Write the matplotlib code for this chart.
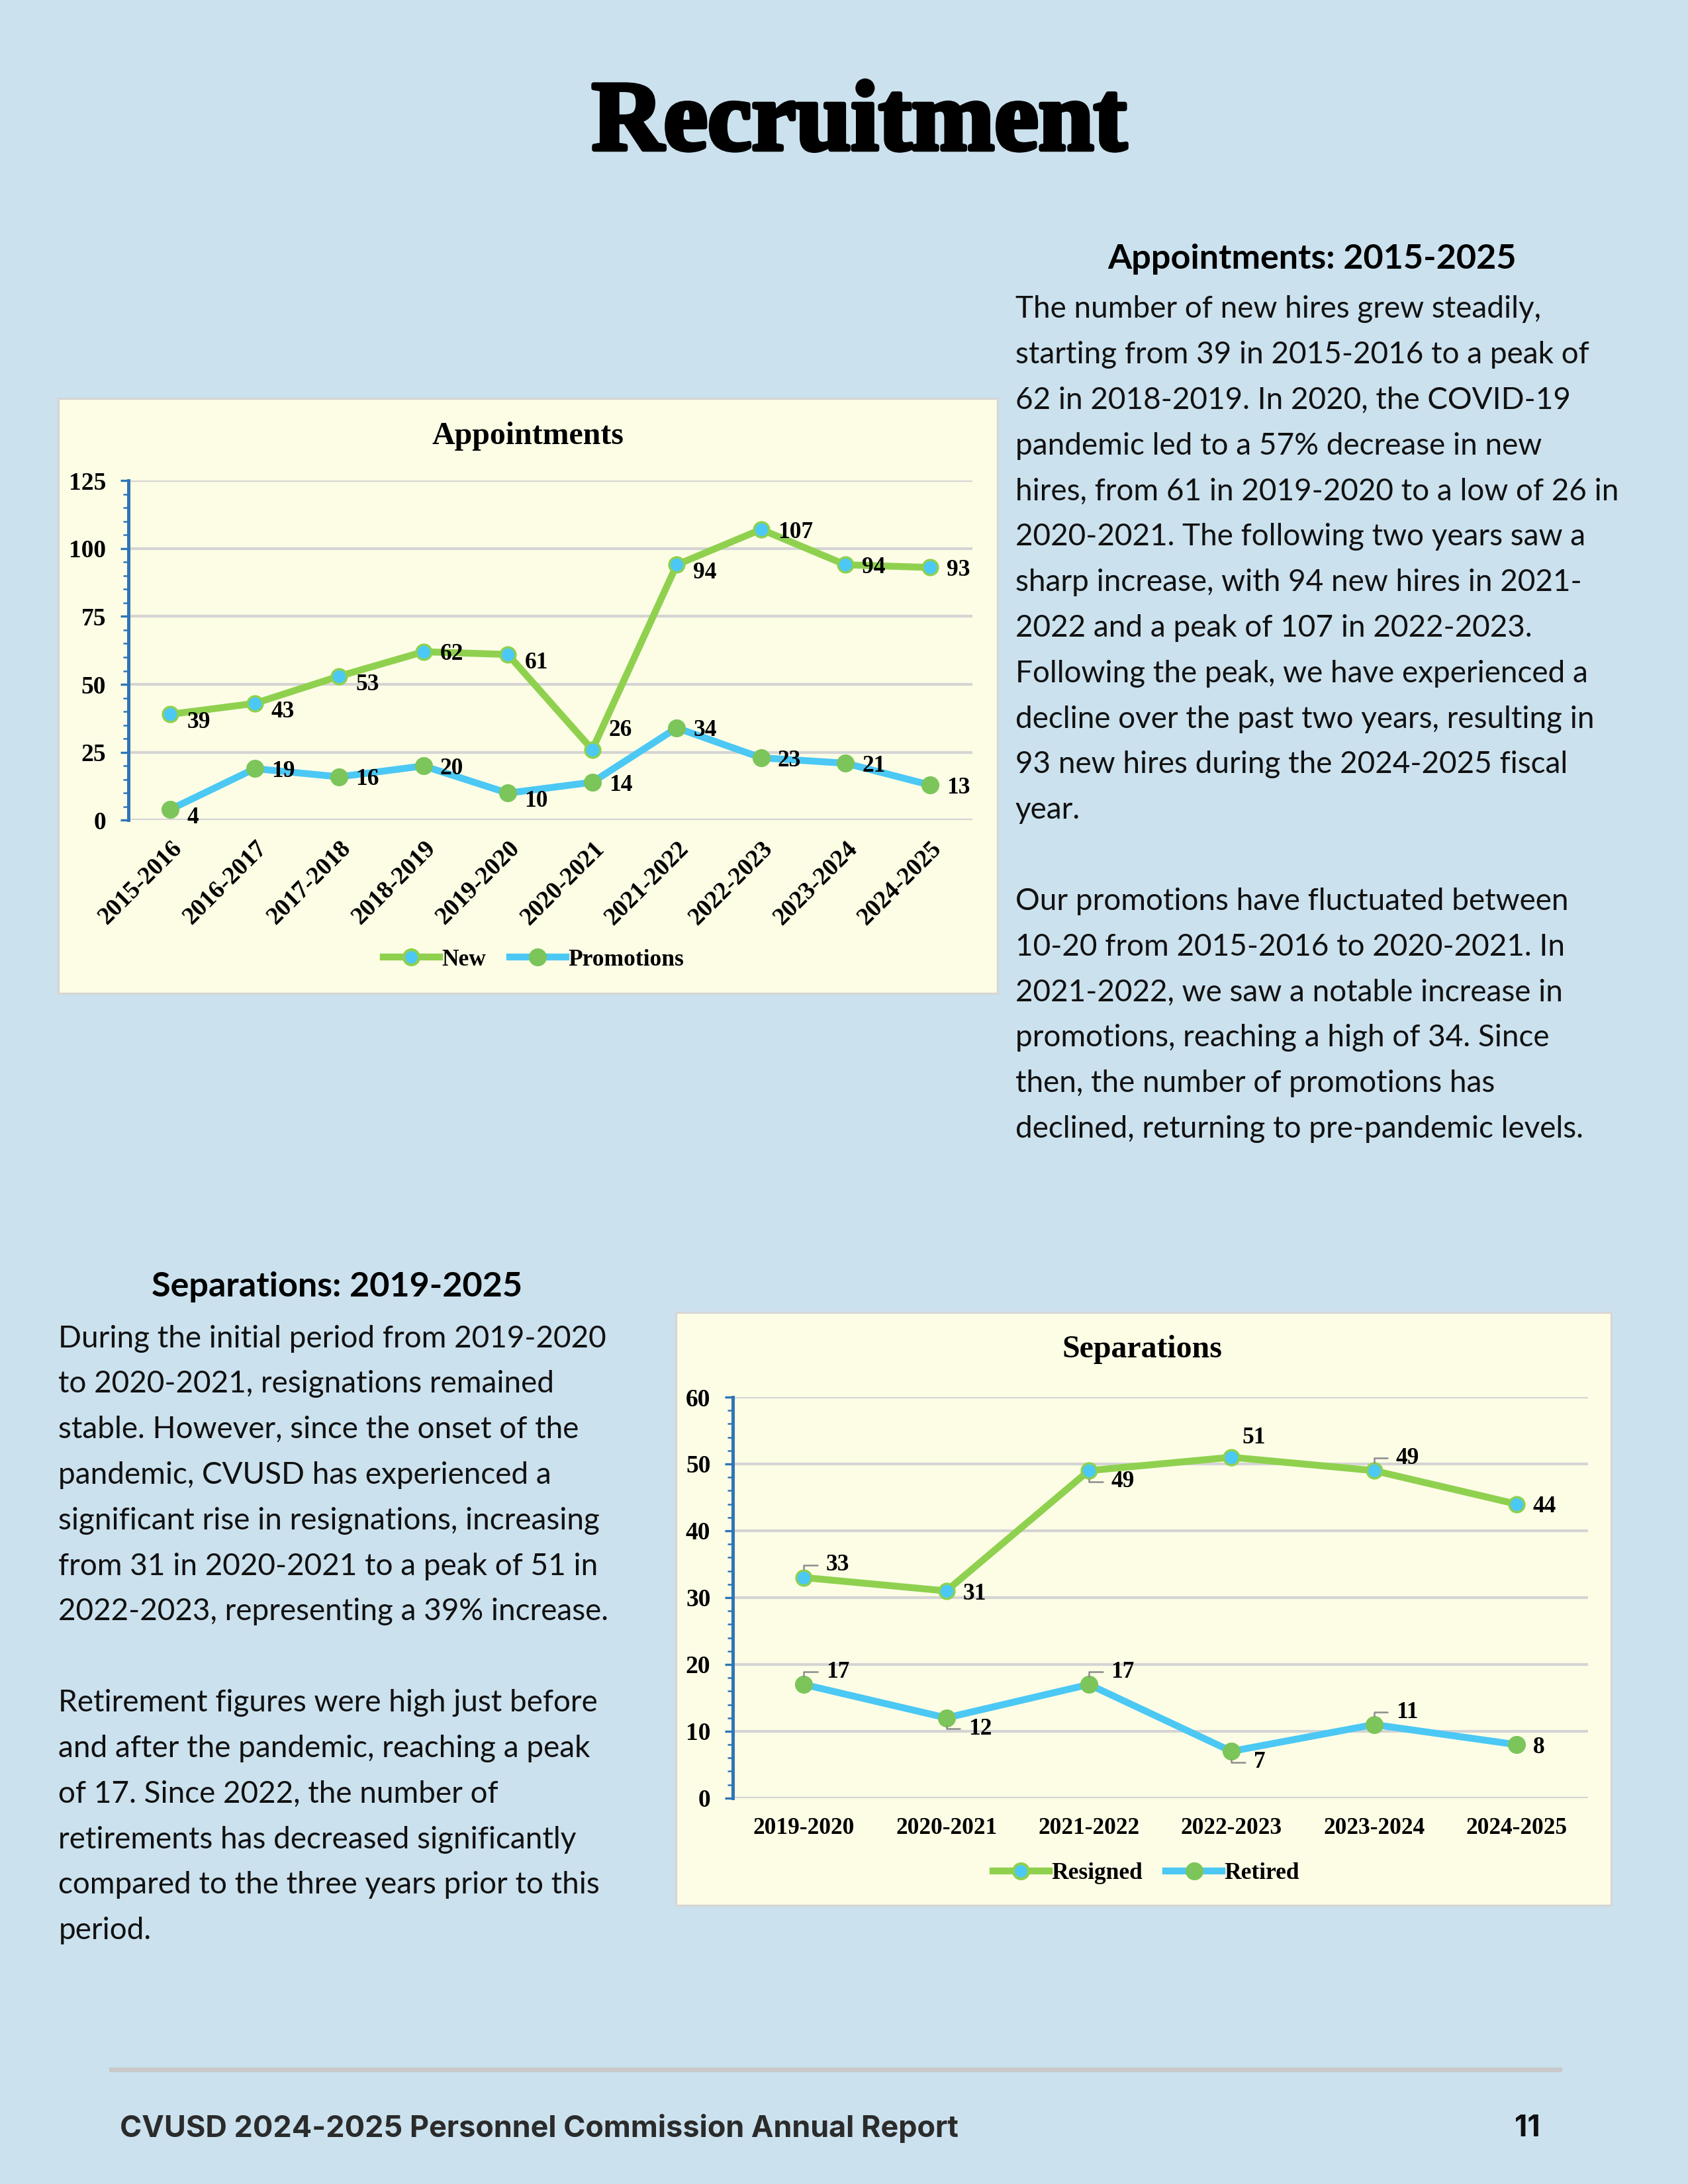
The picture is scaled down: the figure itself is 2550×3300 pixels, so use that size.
import numpy as np
import matplotlib.pyplot as plt
import matplotlib.patheffects as pe
from matplotlib.patches import Rectangle
from matplotlib.lines import Line2D
from matplotlib.ticker import MultipleLocator

# ---- data ----
app_years = ["2015-2016", "2016-2017", "2017-2018", "2018-2019", "2019-2020",
             "2020-2021", "2021-2022", "2022-2023", "2023-2024", "2024-2025"]
new_hires = [39, 43, 53, 62, 61, 26, 94, 107, 94, 93]
promotions = [4, 19, 16, 20, 10, 14, 34, 23, 21, 13]

sep_years = ["2019-2020", "2020-2021", "2021-2022", "2022-2023", "2023-2024", "2024-2025"]
resigned = [33, 31, 49, 51, 49, 44]
retired = [17, 12, 17, 7, 11, 8]

# label placement codes (style only)
new_pos = ["r-", "r-", "r-", "r", "r-", "ru", "r-", "r", "r", "r"]
promo_pos = ["r-", "r", "r", "r", "r-", "r", "r", "r", "r", "r"]
resigned_pos = ["UR", "r", "LR", "u", "UR", "r"]
retired_pos = ["UR", "LR", "UR", "LR", "UR", "r"]

para_app = [
    "The number of new hires grew steadily,",
    "starting from 39 in 2015-2016 to a peak of",
    "62 in 2018-2019. In 2020, the COVID-19",
    "pandemic led to a 57% decrease in new",
    "hires, from 61 in 2019-2020 to a low of 26 in",
    "2020-2021. The following two years saw a",
    "sharp increase, with 94 new hires in 2021-",
    "2022 and a peak of 107 in 2022-2023.",
    "Following the peak, we have experienced a",
    "decline over the past two years, resulting in",
    "93 new hires during the 2024-2025 fiscal",
    "year.",
    "",
    "Our promotions have fluctuated between",
    "10-20 from 2015-2016 to 2020-2021. In",
    "2021-2022, we saw a notable increase in",
    "promotions, reaching a high of 34. Since",
    "then, the number of promotions has",
    "declined, returning to pre-pandemic levels.",
]
para_sep = [
    "During the initial period from 2019-2020",
    "to 2020-2021, resignations remained",
    "stable. However, since the onset of the",
    "pandemic, CVUSD has experienced a",
    "significant rise in resignations, increasing",
    "from 31 in 2020-2021 to a peak of 51 in",
    "2022-2023, representing a 39% increase.",
    "",
    "Retirement figures were high just before",
    "and after the pandemic, reaching a peak",
    "of 17. Since 2022, the number of",
    "retirements has decreased significantly",
    "compared to the three years prior to this",
    "period.",
]

# ---- style ----
page_bg = "#cbe1ee"
panel_bg = "#fdfde6"
green = "#8fd14f"
cyan = "#4cc8f4"
dot_green = "#7cc55a"
axis_blue = "#2e75b6"
serif = "Liberation Serif"
body_font = "Lato"
LW = 2.5
MS = 5.5

fig = plt.figure(figsize=(8.5, 11), dpi=300)
fig.patch.set_facecolor(page_bg)

fig.text(0.509, 0.9426, "Recruitment", ha="center", va="center", fontsize=36,
         fontweight="bold", family=serif, color="black",
         path_effects=[pe.withStroke(linewidth=1.6, foreground="black")])


def panel(x0, y0, x1, y1):
    fig.patches.append(Rectangle((x0, y0), x1 - x0, y1 - y0, transform=fig.transFigure,
                                 facecolor=panel_bg, edgecolor="#d6d6d6", lw=0.8, zorder=-5))


def style_axes(ax, ymax, major, minor):
    ax.set_facecolor("none")
    ax.set_ylim(0, ymax)
    ax.yaxis.set_major_locator(MultipleLocator(major))
    ax.yaxis.set_minor_locator(MultipleLocator(minor))
    for s in ["top", "right", "bottom"]:
        ax.spines[s].set_visible(False)
    ax.spines["left"].set_color(axis_blue)
    ax.spines["left"].set_linewidth(1.2)
    ax.grid(axis="y", color="#d4d4d4", lw=1.0)
    ax.set_axisbelow(True)
    ax.tick_params(axis="y", which="major", length=3, width=0.8, color=axis_blue, pad=5)
    ax.tick_params(axis="y", which="minor", length=2, width=0.6, color=axis_blue)
    ax.tick_params(axis="x", length=0)
    for lab in ax.get_yticklabels():
        lab.set_fontfamily(serif)
        lab.set_fontweight("bold")
        lab.set_fontsize(9)


def put_label(ax, x, y, code):
    txt = str(y)
    kw = dict(textcoords="offset points", fontsize=8.5, fontweight="bold", family=serif,
              va="center", ha="left", zorder=5)
    if code == "r":
        ax.annotate(txt, (x, y), xytext=(6, -1), **kw)
    elif code == "r-":
        ax.annotate(txt, (x, y), xytext=(6, -3), **kw)
    elif code == "ru":
        ax.annotate(txt, (x, y), xytext=(6, 7), **kw)
    elif code == "u":
        ax.annotate(txt, (x, y), xytext=(4, 7), **kw)
    else:
        dy = 4.5 if code == "UR" else -4
        ax.annotate(txt, (x, y), xytext=(8, dy),
                    arrowprops=dict(arrowstyle="-", color="#8c8c8c", lw=0.6,
                                    connectionstyle="angle,angleA=0,angleB=90",
                                    shrinkA=1, shrinkB=3), **kw)


def line_handle(line_color, face, edge):
    return Line2D([], [], color=line_color, lw=LW, marker="o", ms=MS, mfc=face, mec=edge)


# ---- Appointments chart ----
panel(0.0347, 0.5453, 0.5908, 0.8176)
ax1 = fig.add_axes([0.0759, 0.6244, 0.50, 0.1556])
x1 = np.arange(len(app_years))
ax1.plot(x1, new_hires, color=green, lw=LW, marker="o", ms=MS,
         mfc=cyan, mec=green, mew=0.8, zorder=3)
ax1.plot(x1, promotions, color=cyan, lw=LW, marker="o", ms=MS,
         mfc=dot_green, mec=dot_green, zorder=3)
ax1.set_xlim(-0.5, len(app_years) - 0.5)
ax1.set_xticks(x1)
ax1.set_xticklabels(app_years, rotation=45, ha="right", va="top", rotation_mode="anchor",
                    fontsize=9, fontweight="bold", family=serif)
ax1.tick_params(axis="x", pad=6)
style_axes(ax1, 125, 25, 5)
for i in range(len(app_years)):
    put_label(ax1, x1[i], new_hires[i], new_pos[i])
    put_label(ax1, x1[i], promotions[i], promo_pos[i])
fig.text(0.3127, 0.8004, "Appointments", ha="center", va="center", fontsize=11.5,
         fontweight="bold", family=serif)
fig.legend([line_handle(green, cyan, green), line_handle(cyan, dot_green, dot_green)],
           ["New", "Promotions"], loc="center", bbox_to_anchor=(0.316, 0.5606),
           ncol=2, frameon=False, handlelength=2.4, columnspacing=1.0, handletextpad=0.1,
           prop=dict(family=serif, weight="bold", size=8.5))

# ---- Separations chart ----
panel(0.4002, 0.1276, 0.9546, 0.3992)
ax2 = fig.add_axes([0.4340, 0.1767, 0.5066, 0.1836])
x2 = np.arange(len(sep_years))
ax2.plot(x2, resigned, color=green, lw=LW, marker="o", ms=MS,
         mfc=cyan, mec=green, mew=0.8, zorder=3)
ax2.plot(x2, retired, color=cyan, lw=LW, marker="o", ms=MS,
         mfc=dot_green, mec=dot_green, zorder=3)
ax2.set_xlim(-0.5, len(sep_years) - 0.5)
ax2.set_xticks(x2)
ax2.set_xticklabels(sep_years, fontsize=8.5, fontweight="bold", family=serif)
ax2.tick_params(axis="x", pad=7)
style_axes(ax2, 60, 10, 2)
for i in range(len(sep_years)):
    put_label(ax2, x2[i], resigned[i], resigned_pos[i])
    put_label(ax2, x2[i], retired[i], retired_pos[i])
fig.text(0.6766, 0.382, "Separations", ha="center", va="center", fontsize=11.5,
         fontweight="bold", family=serif)
fig.legend([line_handle(green, cyan, green), line_handle(cyan, dot_green, dot_green)],
           ["Resigned", "Retired"], loc="center", bbox_to_anchor=(0.679, 0.1422),
           ncol=2, frameon=False, handlelength=2.4, columnspacing=1.0, handletextpad=0.1,
           prop=dict(family=serif, weight="bold", size=8.5))

# ---- text blocks ----
line_step = 32.7 / 1568
fig.text(0.7772, 0.8814, "Appointments: 2015-2025", ha="center", va="center",
         fontsize=12.5, fontweight="bold", family=body_font)
for k, line in enumerate(para_app):
    fig.text(0.6015, 1 - 222 / 1568 - k * line_step, line, ha="left", va="center",
             fontsize=11, family=body_font, color="#111111")

fig.text(0.1997, 0.4107, "Separations: 2019-2025", ha="center", va="center",
         fontsize=12.5, fontweight="bold", family=body_font)
for k, line in enumerate(para_sep):
    fig.text(0.0347, 1 - 961 / 1568 - k * line_step, line, ha="left", va="center",
             fontsize=11, family=body_font, color="#111111")

# ---- footer ----
fig.add_artist(Line2D([0.066, 0.924], [0.0523, 0.0523], color="#c9c9c9", lw=1.7,
                      transform=fig.transFigure))
fig.text(0.071, 0.0255, "CVUSD 2024-2025 Personnel Commission Annual Report", ha="left",
         va="center", fontsize=10.8, fontweight="bold", family="Inter", color="#2b2b2b")
fig.text(0.9126, 0.0255, "11", ha="right", va="center", fontsize=10.8, fontweight="bold",
         family="Inter", color="#111111")

fig.savefig("out.png", dpi=300, facecolor=page_bg)
